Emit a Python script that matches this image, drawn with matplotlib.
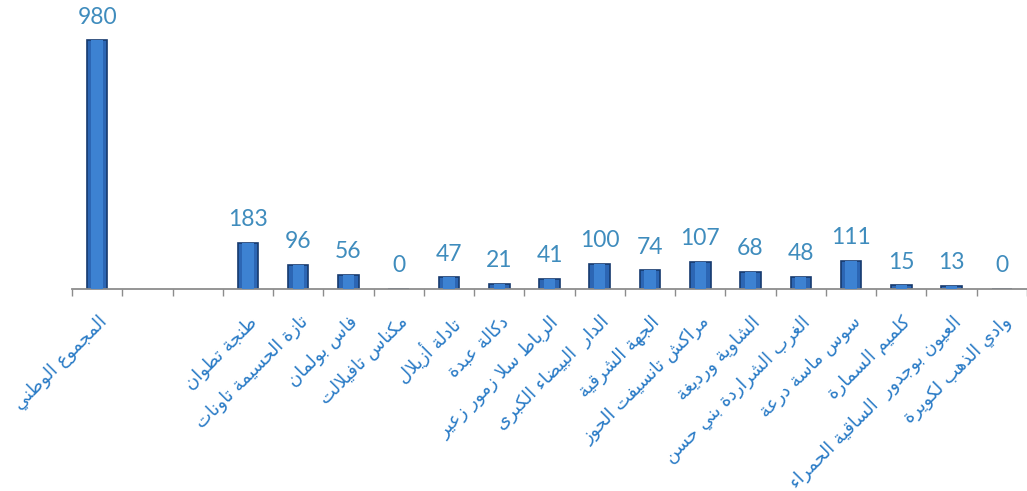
import numpy as np
import matplotlib
matplotlib.use('Agg')
import matplotlib.pyplot as plt

# regions (two empty slots after the national total, as in the original)
categories = ['المجموع الوطني', '', '',
              'طنجة تطوان', 'تازة الحسيمة تاونات', 'فاس بولمان', 'مكناس تافيلالت',
              'تادلة أزيلال', 'دكالة عبدة', 'الرباط سلا زمور زعير',
              'الدار  البيضاء الكبرى', 'الجهة الشرقية', 'مراكش تانسيفت الحوز',
              'الشاوية ورديغة', 'الغرب الشراردة بني حسن', 'سوس ماسة درعة',
              'كلميم السمارة', 'العيون بوجدور  الساقية الحمراء', 'وادي الذهب لكويرة']
values = [980, None, None,
          183, 96, 56, 0, 47, 21, 41, 100, 74, 107, 68, 48, 111, 15, 13, 0]

# --- minimal arabic shaping (matplotlib has no bidi / joining) ---
# letter -> (first presentation form, number of forms)
forms = {
    'ء': (0xFE80, 1), 'آ': (0xFE81, 2), 'أ': (0xFE83, 2), 'ؤ': (0xFE85, 2),
    'إ': (0xFE87, 2), 'ئ': (0xFE89, 4), 'ا': (0xFE8D, 2), 'ب': (0xFE8F, 4),
    'ة': (0xFE93, 2), 'ت': (0xFE95, 4), 'ث': (0xFE99, 4), 'ج': (0xFE9D, 4),
    'ح': (0xFEA1, 4), 'خ': (0xFEA5, 4), 'د': (0xFEA9, 2), 'ذ': (0xFEAB, 2),
    'ر': (0xFEAD, 2), 'ز': (0xFEAF, 2), 'س': (0xFEB1, 4), 'ش': (0xFEB5, 4),
    'ص': (0xFEB9, 4), 'ض': (0xFEBD, 4), 'ط': (0xFEC1, 4), 'ظ': (0xFEC5, 4),
    'ع': (0xFEC9, 4), 'غ': (0xFECD, 4), 'ف': (0xFED1, 4), 'ق': (0xFED5, 4),
    'ك': (0xFED9, 4), 'ل': (0xFEDD, 4), 'م': (0xFEE1, 4), 'ن': (0xFEE5, 4),
    'ه': (0xFEE9, 4), 'و': (0xFEED, 2), 'ى': (0xFEEF, 2), 'ي': (0xFEF1, 4),
}
lam_alef = {'ا': 0xFEFB, 'أ': 0xFEF7, 'إ': 0xFEF9, 'آ': 0xFEF5}


def shape(text):
    # merge lam + alef first
    chars = []
    i = 0
    while i < len(text):
        if text[i] == 'ل' and i + 1 < len(text) and text[i + 1] in lam_alef:
            chars.append(('LA', text[i + 1]))
            i += 2
        else:
            chars.append((text[i], None))
            i += 1

    def joins_next(c):
        return c[0] in forms and forms[c[0]][1] == 4

    def joins(c):
        return c[0] == 'LA' or (c[0] in forms and forms[c[0]][1] > 1)

    out = []
    for k, c in enumerate(chars):
        prev = chars[k - 1] if k > 0 else None
        nxt = chars[k + 1] if k + 1 < len(chars) else None
        p = prev is not None and joins_next(prev) and joins(c)
        if c[0] == 'LA':
            out.append(chr(lam_alef[c[1]] + (1 if p else 0)))
            continue
        if c[0] not in forms:
            out.append(c[0])
            continue
        n = nxt is not None and joins_next(c) and joins(nxt)
        base, nf = forms[c[0]]
        if p and n:
            off = 3
        elif n:
            off = 2
        elif p and nf > 1:
            off = 1
        else:
            off = 0
        out.append(chr(base + off))
    return ''.join(out)[::-1]


x = np.arange(len(categories))
bx = [i for i, v in enumerate(values) if v is not None]
bv = [v for v in values if v is not None]

fig = plt.figure(figsize=(10.27, 4.91), dpi=100)
ax = fig.add_axes([72 / 1027, 1 - 289 / 491, 1 - 72 / 1027, 289 / 491])

width = 0.41
ax.bar(bx, bv, width, color='#2C66B4', edgecolor='#163A6E', linewidth=1.2, zorder=2)
ax.bar(bx, bv, width * 0.55, color='#3D82D2', linewidth=0, zorder=3)

for xi, v in zip(bx, bv):
    ax.annotate('%d' % v, (xi, v), xytext=(0, 9), textcoords='offset points',
                ha='center', va='bottom', fontsize=16.5, color='#3F8CBD',
                family=['Lato', 'DejaVu Sans'])

ax.set_xlim(-0.5, (1027 - 72) / 50.5 - 0.5)
ax.set_ylim(0, 289 / 0.254)

for s in ['top', 'right', 'left']:
    ax.spines[s].set_visible(False)
ax.spines['bottom'].set_color('#8C8C8C')
ax.spines['bottom'].set_linewidth(1.3)
ax.set_yticks([])

ax.set_xticks(np.arange(-0.5, len(categories), 1.0))
ax.set_xticklabels([])
ax.tick_params(axis='x', which='major', direction='out', length=5, width=1, color='#8C8C8C')

ax.set_xticks(x, [shape(c) for c in categories], minor=True)
ax.tick_params(axis='x', which='minor', length=0, pad=17, labelsize=13, labelcolor='#2A7BC6')
for lab in ax.get_xticklabels(minor=True):
    lab.set_rotation(45)
    lab.set_ha('right')
    lab.set_va('top')
    lab.set_rotation_mode('anchor')
    lab.set_family('DejaVu Sans')

fig.savefig('out.png', dpi=100)
